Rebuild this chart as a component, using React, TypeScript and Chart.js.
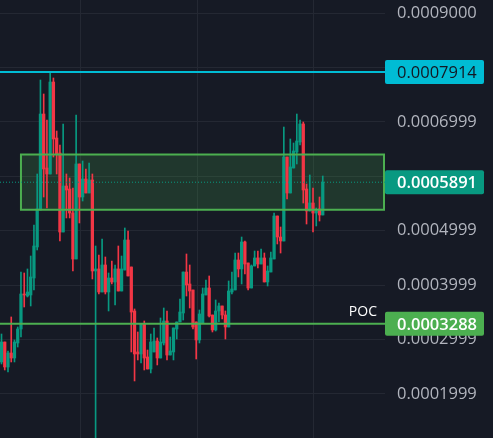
import { useEffect, useRef } from 'react';
import { Chart, registerables } from 'chart.js';

Chart.register(...registerables);

// ---- data ----
const opens = [
  0.0002588, 0.0002955, 0.0002496, 0.0002753, 0.0002661, 0.0002937, 0.0003194, 0.0003837, 0.00038, 0.0003819,
  0.0004131, 0.0004701, 0.0005381, 0.0007144, 0.0006152, 0.0006042, 0.0007732, 0.0006703, 0.0006428, 0.0004976,
  0.0005821, 0.0005766, 0.0005325, 0.000448, 0.0006226, 0.0005619, 0.000595, 0.0005693, 0.0005932, 0.000426,
  0.0004297, 0.0003874, 0.000437, 0.0003874, 0.0004131, 0.0004058, 0.0004297, 0.0003892, 0.0004278, 0.0004829,
  0.0004333, 0.0003525, 0.0002772, 0.0002735, 0.0003286, 0.000268, 0.0002459, 0.0002772, 0.0002974, 0.0002661,
  0.0002937, 0.0003341, 0.0002716, 0.0002772, 0.0003194, 0.0003323, 0.0003488, 0.0004241, 0.0004021, 0.0003911,
  0.0003323, 0.0002992, 0.0003304, 0.0003819, 0.0003947, 0.0003451, 0.0003176, 0.0003525, 0.0003617, 0.0003451,
  0.0003231, 0.0003874, 0.0003911, 0.0004462, 0.0004297, 0.0004793, 0.0004407, 0.0003947, 0.0004352, 0.0004499,
  0.0004388, 0.0004499, 0.0004058, 0.0004241, 0.000448, 0.000527, 0.0004884, 0.0004811, 0.0006354, 0.0005693,
  0.0006152, 0.0006446, 0.000663, 0.0006961, 0.0005766, 0.0005362, 0.0005509, 0.0005325, 0.0005399, 0.0005289,
];
const highs = [
  0.0003102, 0.0002955, 0.000279, 0.0003415, 0.0002992, 0.0003231, 0.0004241, 0.0004223, 0.0004297, 0.0004535,
  0.0005105, 0.0006042, 0.0007769, 0.0007512, 0.0007034, 0.0007914, 0.0007806, 0.0006832, 0.0006575, 0.0006961,
  0.0006042, 0.0005968, 0.0005785, 0.0007126, 0.0006226, 0.0006281, 0.0006134, 0.0006244, 0.0006042, 0.0004719,
  0.0004554, 0.0004848, 0.0004517, 0.0004223, 0.0004443, 0.000437, 0.0004719, 0.0004535, 0.000505, 0.0004995,
  0.0004333, 0.0003562, 0.0003139, 0.0003286, 0.0003341, 0.0002808, 0.0003102, 0.0003213, 0.0003029, 0.0003396,
  0.000358, 0.0003525, 0.0003047, 0.0003213, 0.0003323, 0.0003745, 0.0004241, 0.0004572, 0.000437, 0.0003911,
  0.0003323, 0.0003543, 0.0003947, 0.0004094, 0.0004168, 0.0003451, 0.0003727, 0.0003672, 0.0003617, 0.0003525,
  0.0004076, 0.0004241, 0.000459, 0.000459, 0.0004884, 0.0004811, 0.0004407, 0.000437, 0.0004627, 0.0004627,
  0.0004664, 0.000459, 0.0004352, 0.0004609, 0.0005325, 0.000527, 0.0005068, 0.0006905, 0.0006354, 0.0006685,
  0.0006612, 0.0007144, 0.0007034, 0.0006997, 0.0005858, 0.0006024, 0.0005785, 0.0005417, 0.0005619, 0.0006005,
];
const lows = [
  0.0002551, 0.0002441, 0.0002404, 0.0002588, 0.0002588, 0.0002863, 0.0003047, 0.0003598, 0.0003782, 0.0003617,
  0.0003911, 0.0004646, 0.0005381, 0.0005619, 0.0005417, 0.0006042, 0.0006354, 0.0006042, 0.0004811, 0.0004976,
  0.0005234, 0.0005234, 0.000426, 0.000448, 0.0005142, 0.0005546, 0.0005693, 0.0005693, 0.0004113, 0.00011,
  0.0003837, 0.0003874, 0.0003837, 0.0003525, 0.0004021, 0.0003635, 0.0003892, 0.0003892, 0.0004278, 0.0004168,
  0.0002772, 0.0002239, 0.0002625, 0.0002569, 0.0002441, 0.0002459, 0.0002386, 0.0002772, 0.0002533, 0.0002661,
  0.00029, 0.0002625, 0.0002716, 0.0002625, 0.000301, 0.0003323, 0.0003359, 0.00038, 0.000358, 0.0003194,
  0.0002643, 0.0002937, 0.0003304, 0.0003819, 0.0003415, 0.0003139, 0.0003157, 0.0003323, 0.0003378, 0.000301,
  0.0003231, 0.0003837, 0.0003911, 0.000415, 0.0004021, 0.0004205, 0.0003911, 0.0003947, 0.0004352, 0.0004315,
  0.0004388, 0.0004058, 0.0003984, 0.0004241, 0.000448, 0.0004756, 0.000459, 0.0004811, 0.0005583, 0.0005693,
  0.0006152, 0.0006226, 0.0006575, 0.0005509, 0.0005123, 0.0005362, 0.0004976, 0.0005087, 0.0005178, 0.0005289,
];
const closes = [
  0.0002955, 0.0002496, 0.0002753, 0.0002661, 0.0002955, 0.0003194, 0.0003837, 0.0003819, 0.0003874, 0.000415,
  0.0004719, 0.0005399, 0.0007144, 0.0006134, 0.0006042, 0.0007732, 0.0006685, 0.0006409, 0.0004976, 0.0005821,
  0.0005748, 0.0005325, 0.000448, 0.0006226, 0.0005619, 0.000595, 0.0005693, 0.0005932, 0.000426, 0.0004297,
  0.0003874, 0.000437, 0.0003874, 0.0004131, 0.0004058, 0.0004297, 0.0003892, 0.0004297, 0.0004829, 0.0004168,
  0.0003506, 0.0002735, 0.0002735, 0.0003286, 0.0002661, 0.0002459, 0.0002955, 0.0002974, 0.0002661, 0.0002955,
  0.0003341, 0.0002716, 0.000279, 0.0003213, 0.0003323, 0.0003506, 0.0004241, 0.0004003, 0.0003892, 0.0003231,
  0.0002992, 0.000347, 0.0003837, 0.0003947, 0.0003433, 0.0003176, 0.0003525, 0.0003617, 0.0003451, 0.0003231,
  0.0003892, 0.0003929, 0.0004462, 0.0004297, 0.0004793, 0.0004388, 0.0003947, 0.0004352, 0.0004499, 0.0004388,
  0.0004499, 0.0004058, 0.000426, 0.0004499, 0.000527, 0.0004884, 0.0004811, 0.0006354, 0.0005693, 0.0006171,
  0.0006465, 0.0006648, 0.0006961, 0.0005748, 0.0005362, 0.0005509, 0.0005325, 0.0005362, 0.0005289, 0.0005891,
];

const priceTicks = [0.0002, 0.0003, 0.0004, 0.0005, 0.0006, 0.0007, 0.0008, 0.0009];
// labels for 0.0006 and 0.0008 are hidden behind the price-level tags in the reference
const priceTickLabels = ['0.0001999', '0.0002999', '0.0003999', '0.0004999', '', '0.0006999', '', '0.0009000'];
const timeGridAt = [24.2, 60.25, 96];

const resistanceLevel = 0.0007914;
const resistanceLabel = '0.0007914';
const pocLevel = 0.0003288;
const pocLabel = '0.0003288';
const pocTitle = 'POC';
const lastPrice = 0.0005891;
const lastPriceLabel = '0.0005891';
const zoneTop = 0.00064;
const zoneBottom = 0.0005385;
const zoneStartIndex = 6;

// ---- styles ----
const BG = '#161a25';
const GRID = '#242833';
const UP = '#089981';
const DOWN = '#f23645';
const CYAN = '#00bcd4';
const GREEN = '#4caf50';
const TEXT = '#b2b5be';
const FONT = '"Open Sans", "Noto Sans", sans-serif';

const X_MIN = -0.462;
const X_MAX = 118.18;
const Y_MIN = 0.0001191;
const Y_MAX = 0.0009239;

function box(ctx: CanvasRenderingContext2D, x: number, yc: number, w: number, h: number, fill: string) {
  ctx.fillStyle = fill;
  ctx.beginPath();
  if ((ctx as any).roundRect) (ctx as any).roundRect(x, yc - h / 2, w, h, 2);
  else ctx.rect(x, yc - h / 2, w, h);
  ctx.fill();
}

const overlayPlugin = {
  id: 'overlays',
  beforeDatasetsDraw(chart: any) {
    const { ctx, chartArea, scales } = chart;
    const x0 = scales.x.getPixelForValue(zoneStartIndex);
    const t = scales.y.getPixelForValue(zoneTop);
    const b = scales.y.getPixelForValue(zoneBottom);
    ctx.save();
    ctx.fillStyle = 'rgba(76,175,80,0.2)';
    ctx.fillRect(x0, t, chartArea.right - x0, b - t);
    ctx.restore();
  },
  afterDatasetsDraw(chart: any) {
    const { ctx, chartArea, scales } = chart;
    const x0 = scales.x.getPixelForValue(zoneStartIndex);
    const t = scales.y.getPixelForValue(zoneTop);
    const b = scales.y.getPixelForValue(zoneBottom);
    ctx.save();
    ctx.strokeStyle = GREEN;
    ctx.lineWidth = 2;
    ctx.strokeRect(x0, t, chartArea.right - 1 - x0, b - t);

    const hline = (v: number, color: string, width: number, dash: number[]) => {
      const y = scales.y.getPixelForValue(v);
      ctx.strokeStyle = color;
      ctx.lineWidth = width;
      ctx.setLineDash(dash);
      ctx.beginPath();
      ctx.moveTo(chartArea.left, y);
      ctx.lineTo(chartArea.right, y);
      ctx.stroke();
    };
    hline(lastPrice, UP, 1, [1, 2]);
    hline(resistanceLevel, CYAN, 2, []);
    hline(pocLevel, GREEN, 2, []);
    ctx.setLineDash([]);

    const py = scales.y.getPixelForValue(pocLevel);
    ctx.fillStyle = '#ffffff';
    ctx.font = `14px ${FONT}`;
    ctx.textAlign = 'right';
    ctx.textBaseline = 'alphabetic';
    ctx.fillText(pocTitle, chartArea.right - 8, py - 8);
    ctx.restore();
  },
  afterDraw(chart: any) {
    const { ctx, chartArea, scales } = chart;
    ctx.save();
    const labels: [number, string, string, string, string][] = [
      [resistanceLevel, resistanceLabel, CYAN, '#131722', 'normal'],
      [lastPrice, lastPriceLabel, UP, '#ffffff', '600'],
      [pocLevel, pocLabel, GREEN, '#ffffff', '600'],
    ];
    for (const [v, txt, fill, color, weight] of labels) {
      const y = scales.y.getPixelForValue(v);
      box(ctx, chartArea.right, y, 99, 24, fill);
      ctx.fillStyle = color;
      ctx.font = `${weight} 16.5px ${FONT}`;
      ctx.textAlign = 'left';
      ctx.textBaseline = 'middle';
      ctx.fillText(txt, chartArea.right + 12, y + 1);
    }
    ctx.restore();
  },
};

export default function App() {
  const ref = useRef<HTMLCanvasElement>(null);
  useEffect(() => {
    document.body.style.margin = '0';
    document.body.style.background = BG;
    const canvas = ref.current!;
    const idx = opens.map((_, i) => i);
    const colors = idx.map((i) => (closes[i] >= opens[i] ? UP : DOWN));
    const chart = new Chart(canvas, {
      type: 'bar',
      data: {
        datasets: [
          {
            label: 'wick',
            data: idx.map((i) => ({ x: i, y: [lows[i], highs[i]] })) as any,
            backgroundColor: colors,
            barThickness: 1,
            grouped: false,
            order: 2,
          } as any,
          {
            label: 'body',
            data: idx.map((i) => ({ x: i, y: [opens[i], closes[i]] })) as any,
            backgroundColor: colors,
            barThickness: 2.6,
            grouped: false,
            order: 1,
          } as any,
        ],
      },
      options: {
        animation: false,
        responsive: false,
        devicePixelRatio: 1,
        layout: { padding: 0 },
        plugins: { legend: { display: false }, tooltip: { enabled: false } },
        scales: {
          x: {
            type: 'linear',
            min: X_MIN,
            max: X_MAX,
            offset: false,
            ticks: { display: false, padding: 0 },
            grid: { color: GRID, drawTicks: false, offset: false },
            border: { display: false },
            afterBuildTicks: (s: any) => {
              s.ticks = timeGridAt.map((v) => ({ value: v }));
            },
            afterFit: (s: any) => {
              s.height = 0;
              s.paddingLeft = 0;
              s.paddingRight = 0;
              s.paddingTop = 0;
              s.paddingBottom = 0;
            },
          },
          y: {
            type: 'linear',
            position: 'right',
            min: Y_MIN,
            max: Y_MAX,
            beginAtZero: false,
            grid: { color: GRID, drawTicks: false },
            border: { display: false },
            ticks: {
              color: TEXT,
              padding: 12,
              font: { family: FONT, size: 16.5 },
              autoSkip: false,
              callback: (_v: any, i: number) => priceTickLabels[i],
            },
            afterBuildTicks: (s: any) => {
              s.ticks = priceTicks.map((v) => ({ value: v }));
            },
            afterFit: (s: any) => {
              s.width = 108;
              s.paddingTop = 0;
              s.paddingBottom = 0;
            },
          },
        },
      } as any,
      plugins: [overlayPlugin],
    });
    return () => chart.destroy();
  }, []);
  return (
    <div style={{ position: 'absolute', left: 0, top: 0, width: 493, height: 438, background: BG }}>
      <canvas ref={ref} width={493} height={438} style={{ display: 'block' }} />
    </div>
  );
}
